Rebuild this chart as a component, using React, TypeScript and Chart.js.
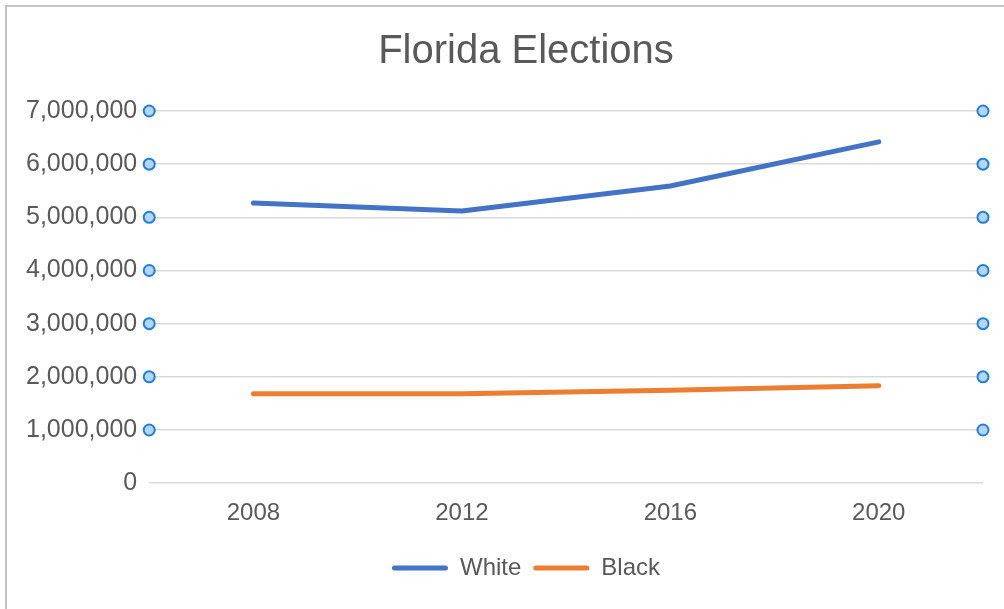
import React, { useEffect, useRef } from "react";
import { Chart, registerables } from "chart.js";

Chart.register(...registerables);

const categories = ["2008", "2012", "2016", "2020"];
const whiteVotes = [5270000, 5120000, 5590000, 6420000];
const blackVotes = [1680000, 1680000, 1750000, 1835000];
const yTickValues = [0, 1000000, 2000000, 3000000, 4000000, 5000000, 6000000, 7000000];

const FONT = "'Liberation Sans', Helvetica, Arial, sans-serif";
const TEXT = "#595959";

const handlesPlugin = {
  id: "gridHandles",
  afterDatasetsDraw(chart: any) {
    const { ctx, chartArea, scales } = chart;
    const y = scales.y;
    ctx.save();
    ctx.lineWidth = 2;
    ctx.strokeStyle = "#1f7fdf";
    ctx.fillStyle = "#b5d5f6";
    y.ticks.forEach((t: any) => {
      if (t.value <= 0) return;
      const py = y.getPixelForValue(t.value);
      [chartArea.left, chartArea.right].forEach((px: number) => {
        ctx.beginPath();
        ctx.arc(px, py, 5.5, 0, Math.PI * 2);
        ctx.fill();
        ctx.stroke();
      });
    });
    ctx.restore();
  },
};

export default function App() {
  const ref = useRef<HTMLCanvasElement | null>(null);

  useEffect(() => {
    if (!ref.current) return;
    const chart = new Chart(ref.current, {
      type: "line",
      data: {
        labels: categories,
        datasets: [
          {
            label: "White",
            data: whiteVotes,
            borderColor: "#4472C4",
            backgroundColor: "#4472C4",
            borderWidth: 5,
            borderCapStyle: "round",
            borderJoinStyle: "round",
            pointRadius: 0,
            tension: 0,
          },
          {
            label: "Black",
            data: blackVotes,
            borderColor: "#ED7D31",
            backgroundColor: "#ED7D31",
            borderWidth: 5,
            borderCapStyle: "round",
            borderJoinStyle: "round",
            pointRadius: 0,
            tension: 0,
          },
        ],
      },
      options: {
        responsive: false,
        animation: false,
        layout: { padding: { left: 7, right: 10, top: 0, bottom: 19 } },
        plugins: {
          title: {
            display: true,
            text: "Florida Elections",
            color: TEXT,
            font: { family: FONT, size: 40, weight: "normal" },
            padding: { top: 21, bottom: 35 },
          },
          legend: {
            position: "bottom",
            labels: {
              color: TEXT,
              font: { family: FONT, size: 24 },
              boxWidth: 56,
              boxHeight: 5,
              padding: 12,
              useBorderRadius: true,
              borderRadius: 2.5,
              generateLabels: (c: any) =>
                c.data.datasets.map((d: any, i: number) => ({
                  text: d.label,
                  fillStyle: d.borderColor,
                  strokeStyle: d.borderColor,
                  lineWidth: 0,
                  fontColor: TEXT,
                  borderRadius: 2.5,
                  datasetIndex: i,
                  hidden: false,
                })),
            },
          },
          tooltip: { enabled: false },
        },
        scales: {
          x: {
            offset: true,
            grid: { display: false, drawTicks: false },
            border: { display: false },
            ticks: {
              color: TEXT,
              font: { family: FONT, size: 24 },
              padding: 16,
            },
          },
          y: {
            min: 0,
            max: 7000000,
            afterBuildTicks: (s: any) => {
              s.ticks = yTickValues.map((v) => ({ value: v }));
            },
            grid: { color: "#d9d9d9", lineWidth: 1.5, drawTicks: false },
            border: { display: false },
            ticks: {
              color: TEXT,
              font: { family: FONT, size: 25 },
              padding: 12,
              callback: (v: any) => Number(v).toLocaleString("en-US"),
            },
          },
          y2: {
            position: "right",
            min: 0,
            max: 7000000,
            grid: { display: false, drawTicks: false },
            border: { display: false },
            ticks: { display: false },
            afterFit: (s: any) => {
              s.width = 55;
            },
          },
        },
      },
      plugins: [handlesPlugin],
    });
    return () => chart.destroy();
  }, []);

  return (
    <div
      style={{
        position: "fixed",
        left: 0,
        top: 0,
        width: 1004,
        height: 609,
        overflow: "hidden",
        background: "#ffffff",
      }}
    >
      <div
        style={{
          position: "absolute",
          left: 5,
          top: 5,
          width: 1010,
          height: 620,
          borderLeft: "2px solid #c4c4c4",
          borderTop: "2px solid #c4c4c4",
        }}
      />
      <canvas
        ref={ref}
        width={1041}
        height={602}
        style={{ position: "absolute", left: 7, top: 7, width: 1041, height: 602 }}
      />
    </div>
  );
}
